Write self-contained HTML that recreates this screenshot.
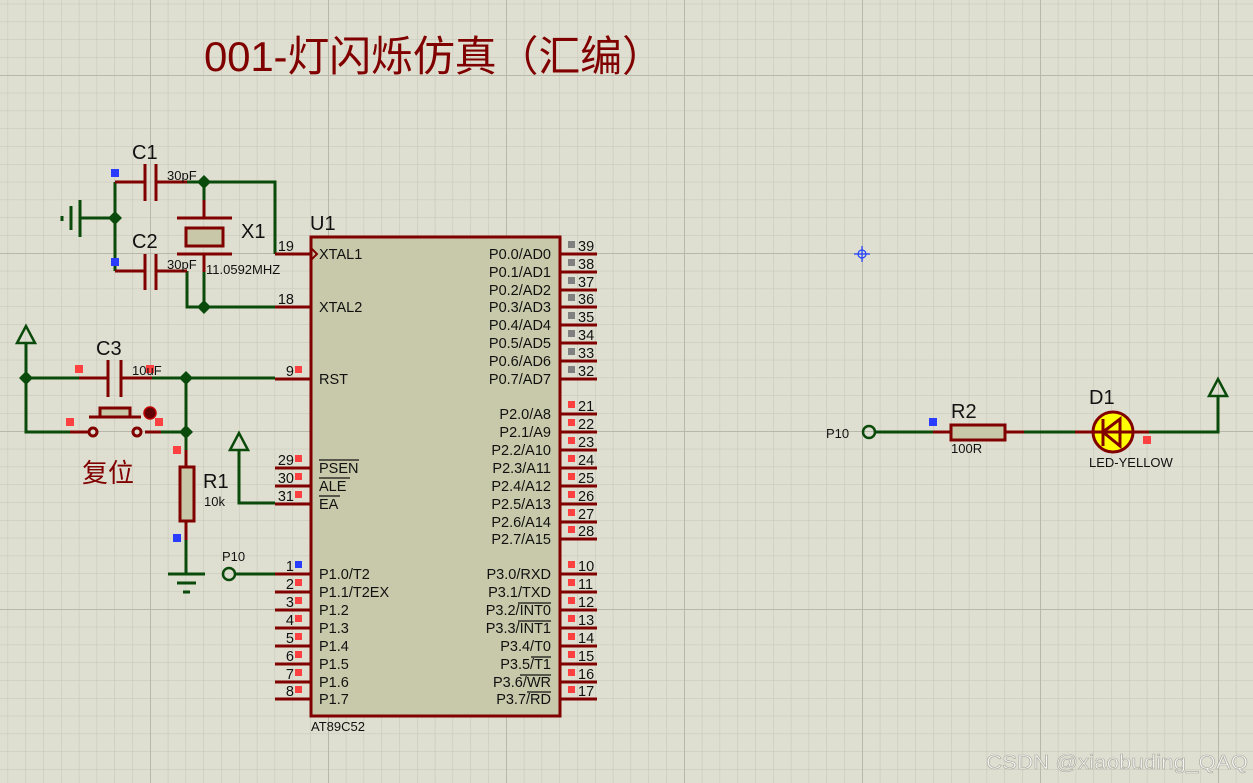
<!DOCTYPE html>
<html><head><meta charset="utf-8"><style>
html,body{margin:0;padding:0;background:#dfdfd1;}
svg{display:block;}
text{font-family:"Liberation Sans","Noto Sans CJK SC",sans-serif;}
</style></head><body>
<svg width="1253" height="783" viewBox="0 0 1253 783" xmlns="http://www.w3.org/2000/svg">
<defs>
<pattern id="g1" patternUnits="userSpaceOnUse" x="150" y="253" width="17.8" height="17.8">
<path d="M0 0H17.8M0 0V17.8" stroke="#c6c6b8" stroke-width="1.1" fill="none"/></pattern>
<pattern id="g2" patternUnits="userSpaceOnUse" x="150" y="253" width="178" height="178">
<path d="M0 0H178M0 0V178" stroke="#b8b8aa" stroke-width="2" fill="none"/></pattern>
</defs>
<rect width="1253" height="783" fill="#dfdfd1"/>
<rect width="1253" height="783" fill="url(#g1)"/>
<rect width="1253" height="783" fill="url(#g2)"/>

<text x="204" y="71" font-size="42" fill="#800000" textLength="460" lengthAdjust="spacing">001-灯闪烁仿真（汇编）</text>

<!-- crosshair -->
<g stroke="#2040ff" stroke-width="1.2" fill="none"><circle cx="862" cy="254" r="4"/><path d="M854 254H870M862 246V262"/></g>

<g fill="none" stroke-width="3">
<g stroke="#0a4a0a">
<path d="M187 182H275V254"/>
<path d="M115 182V271"/>
<path d="M80 218H115"/>
<path d="M80 200V237M71 206V230"/>
<path d="M187 271V307H275"/>
<path d="M204 182V200"/>
<path d="M204 272V307"/>
<path d="M26 343V432H70"/>
<path d="M26 378H79"/>
<path d="M152 378H275"/>
<path d="M186 378V450"/>
<path d="M161 432H186"/>
<path d="M186 540V574"/>
<path d="M168 574H205M177 583H196"/>
<path d="M235 574H275"/>
<path d="M239 450V503H275"/>
<path d="M875 432H933"/>
<path d="M1024 432H1075"/>
<path d="M1149 432H1218V396"/>
</g>
<path d="M62 216V221M183 592H190" stroke="#0a4a0a" stroke-width="3"/>
<g stroke="#0a4a0a" stroke-width="2.5">
<path d="M26 326L17 343H35Z"/>
<path d="M239 433L230 450H248Z"/>
<path d="M1218 379L1209 396H1227Z"/>
</g>
<g fill="#0a4a0a" stroke="none">
<path d="M204 175l7 7-7 7-7-7z"/><path d="M115 211l7 7-7 7-7-7z"/>
<path d="M204 300l7 7-7 7-7-7z"/><path d="M26 371l7 7-7 7-7-7z"/>
<path d="M186 371l7 7-7 7-7-7z"/><path d="M186 425l7 7-7 7-7-7z"/>
</g>
<circle cx="229" cy="574" r="6" stroke="#0a4a0a" stroke-width="2.5"/>
<circle cx="869" cy="432" r="6" stroke="#0a4a0a" stroke-width="2.5"/>

<g stroke="#800000">
<path d="M115 182H145M145 164V201M156 164V201M156 182H187"/>
<path d="M115 271H145M145 254V290M156 254V290M156 271H187"/>
<path d="M204 200V218M177 218H232M177 254H232M204 254V272"/>
<rect x="186" y="228" width="37" height="18" fill="#c8c8a8"/>
<path d="M79 378H108M108 360V397M121 360V397M121 378H152"/>
<path d="M70 432H89M145 432H161"/>
<circle cx="93" cy="432" r="4" fill="#dfdfd1"/><circle cx="137" cy="432" r="4" fill="#dfdfd1"/>
<path d="M89 417H141"/><rect x="100" y="408" width="30" height="9" fill="#c8c8a8"/>
<path d="M186 450V467M186 521V540"/>
<rect x="180" y="467" width="14" height="54" fill="#c8c8a8"/>
<path d="M933 432H951M1005 432H1024"/>
<rect x="951" y="425" width="54" height="15" fill="#c8c8a8"/>
<path d="M1075 432H1149"/>
<circle cx="1113" cy="432" r="20" fill="#ffff00"/>
<path d="M1075 432H1149M1103 419V446M1103 432L1120 419V446Z"/>
<rect x="311" y="237" width="249" height="479" fill="#c8c8aa"/>
<path d="M275 254H311M275 307H311M275 379H311M275 468H311M275 486H311M275 504H311"/>
<path d="M275 574H311M275 592H311M275 610H311M275 628H311M275 646H311M275 664H311M275 682H311M275 699H311"/>
<path d="M560 254H597M560 272H597M560 290H597M560 307H597M560 325H597M560 343H597M560 361H597M560 379H597"/>
<path d="M560 414H597M560 432H597M560 450H597M560 468H597M560 486H597M560 504H597M560 522H597M560 539H597"/>
<path d="M560 574H597M560 592H597M560 610H597M560 628H597M560 646H597M560 664H597M560 682H597M560 699H597"/>
</g>
<path d="M311 248L317 254L311 260" stroke="#800000" stroke-width="2"/>
</g>
<circle cx="150" cy="413" r="6" fill="#600000" stroke="#c00000" stroke-width="1.5"/>

<g fill="#2a3cff"><rect x="111" y="169" width="8" height="8"/><rect x="111" y="258" width="8" height="8"/><rect x="173" y="534" width="8" height="8"/><rect x="929" y="418" width="8" height="8"/><rect x="295" y="561" width="7" height="7"/></g>
<g fill="#ff4040"><rect x="75" y="365" width="8" height="8"/><rect x="146" y="365" width="8" height="8"/><rect x="66" y="418" width="8" height="8"/><rect x="155" y="418" width="8" height="8"/><rect x="173" y="446" width="8" height="8"/><rect x="1143" y="436" width="8" height="8"/>
<rect x="295" y="366" width="7" height="7"/><rect x="295" y="455" width="7" height="7"/><rect x="295" y="473" width="7" height="7"/><rect x="295" y="491" width="7" height="7"/>
<rect x="295" y="579" width="7" height="7"/><rect x="295" y="597" width="7" height="7"/><rect x="295" y="615" width="7" height="7"/><rect x="295" y="633" width="7" height="7"/><rect x="295" y="651" width="7" height="7"/><rect x="295" y="669" width="7" height="7"/><rect x="295" y="686" width="7" height="7"/>
<rect x="568" y="401" width="7" height="7"/><rect x="568" y="419" width="7" height="7"/><rect x="568" y="437" width="7" height="7"/><rect x="568" y="455" width="7" height="7"/><rect x="568" y="473" width="7" height="7"/><rect x="568" y="491" width="7" height="7"/><rect x="568" y="509" width="7" height="7"/><rect x="568" y="526" width="7" height="7"/>
<rect x="568" y="561" width="7" height="7"/><rect x="568" y="579" width="7" height="7"/><rect x="568" y="597" width="7" height="7"/><rect x="568" y="615" width="7" height="7"/><rect x="568" y="633" width="7" height="7"/><rect x="568" y="651" width="7" height="7"/><rect x="568" y="669" width="7" height="7"/><rect x="568" y="686" width="7" height="7"/></g>
<g fill="#808080"><rect x="568" y="241" width="7" height="7"/><rect x="568" y="259" width="7" height="7"/><rect x="568" y="277" width="7" height="7"/><rect x="568" y="294" width="7" height="7"/><rect x="568" y="312" width="7" height="7"/><rect x="568" y="330" width="7" height="7"/><rect x="568" y="348" width="7" height="7"/><rect x="568" y="366" width="7" height="7"/></g>

<g fill="#111" font-size="20">
<text x="132" y="159">C1</text><text x="132" y="248">C2</text><text x="241" y="238">X1</text>
<text x="96" y="355">C3</text><text x="203" y="488">R1</text><text x="310" y="230">U1</text>
<text x="951" y="418">R2</text><text x="1089" y="404">D1</text>
</g>
<g fill="#111" font-size="13">
<text x="167" y="180">30pF</text><text x="167" y="269">30pF</text><text x="206" y="274">11.0592MHZ</text>
<text x="132" y="375">10uF</text><text x="204" y="506">10k</text><text x="222" y="561">P10</text>
<text x="826" y="438">P10</text><text x="951" y="453">100R</text><text x="1089" y="467">LED-YELLOW</text>
<text x="311" y="731">AT89C52</text>
</g>
<text x="82" y="482" font-size="26" fill="#800000">复位</text>

<g fill="#111" font-size="14.5">
<text x="319" y="259">XTAL1</text><text x="319" y="312">XTAL2</text><text x="319" y="384">RST</text>
<text x="319" y="473">PSEN</text><text x="319" y="491">ALE</text><text x="319" y="509">EA</text>
<text x="319" y="579">P1.0/T2</text><text x="319" y="597">P1.1/T2EX</text><text x="319" y="615">P1.2</text><text x="319" y="633">P1.3</text><text x="319" y="651">P1.4</text><text x="319" y="669">P1.5</text><text x="319" y="687">P1.6</text><text x="319" y="704">P1.7</text>
</g>
<g stroke="#111" stroke-width="1.3"><path d="M319 460H359M319 478H350M319 496H340"/>
<path d="M518 603H551M518 621H551M531 657H551M520 675H551M527 692H551"/></g>
<g fill="#111" font-size="14.5" text-anchor="end">
<text x="551" y="259">P0.0/AD0</text><text x="551" y="277">P0.1/AD1</text><text x="551" y="295">P0.2/AD2</text><text x="551" y="312">P0.3/AD3</text><text x="551" y="330">P0.4/AD4</text><text x="551" y="348">P0.5/AD5</text><text x="551" y="366">P0.6/AD6</text><text x="551" y="384">P0.7/AD7</text>
<text x="551" y="419">P2.0/A8</text><text x="551" y="437">P2.1/A9</text><text x="551" y="455">P2.2/A10</text><text x="551" y="473">P2.3/A11</text><text x="551" y="491">P2.4/A12</text><text x="551" y="509">P2.5/A13</text><text x="551" y="527">P2.6/A14</text><text x="551" y="544">P2.7/A15</text>
<text x="551" y="579">P3.0/RXD</text><text x="551" y="597">P3.1/TXD</text><text x="551" y="615">P3.2/INT0</text><text x="551" y="633">P3.3/INT1</text><text x="551" y="651">P3.4/T0</text><text x="551" y="669">P3.5/T1</text><text x="551" y="687">P3.6/WR</text><text x="551" y="704">P3.7/RD</text>
<text x="294" y="251">19</text><text x="294" y="304">18</text><text x="294" y="376">9</text>
<text x="294" y="465">29</text><text x="294" y="483">30</text><text x="294" y="501">31</text>
<text x="294" y="571">1</text><text x="294" y="589">2</text><text x="294" y="607">3</text><text x="294" y="625">4</text><text x="294" y="643">5</text><text x="294" y="661">6</text><text x="294" y="679">7</text><text x="294" y="696">8</text>
</g>
<g fill="#111" font-size="14.5">
<text x="578" y="251">39</text><text x="578" y="269">38</text><text x="578" y="287">37</text><text x="578" y="304">36</text><text x="578" y="322">35</text><text x="578" y="340">34</text><text x="578" y="358">33</text><text x="578" y="376">32</text>
<text x="578" y="411">21</text><text x="578" y="429">22</text><text x="578" y="447">23</text><text x="578" y="465">24</text><text x="578" y="483">25</text><text x="578" y="501">26</text><text x="578" y="519">27</text><text x="578" y="536">28</text>
<text x="578" y="571">10</text><text x="578" y="589">11</text><text x="578" y="607">12</text><text x="578" y="625">13</text><text x="578" y="643">14</text><text x="578" y="661">15</text><text x="578" y="679">16</text><text x="578" y="696">17</text>
</g>
<text x="986" y="769" font-size="20" fill="#f4f4f0" stroke="#a8a8a0" stroke-width="0.6" textLength="262" lengthAdjust="spacingAndGlyphs">CSDN @xiaobuding_QAQ</text>
</svg>
</body></html>
